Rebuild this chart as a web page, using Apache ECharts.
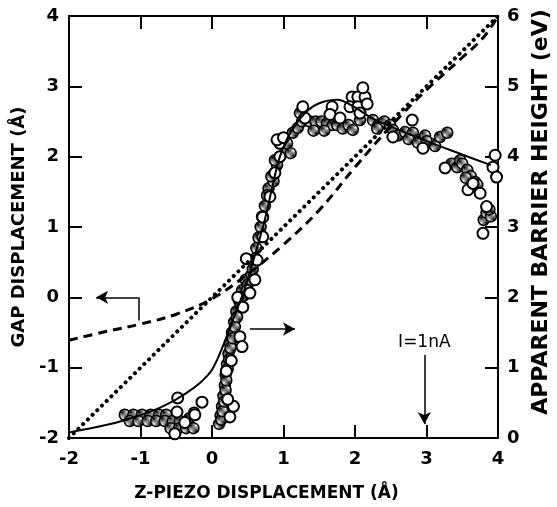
<!DOCTYPE html>
<html>
<head>
<meta charset="utf-8">
<script src="https://cdn.jsdelivr.net/npm/echarts@6/dist/echarts.min.js"></script>
<style>html,body{margin:0;padding:0;background:#fff}#c{width:557px;height:507px}</style>
</head>
<body>
<div id="c"></div>
<script>
// ---- axis ranges ----
const xRange = [-2, 4];
const leftRange = [-2, 4];
const rightRange = [0, 6];

// ---- dashed curve: gap displacement (left axis) ----
const dashedX = [-2, -1.5, -1, -0.5, 0, 0.5, 1, 1.5, 2, 2.5, 3, 3.5, 3.8, 4];
const dashedY = [-0.61, -0.49, -0.38, -0.24, -0.02, 0.33, 0.75, 1.24, 1.85, 2.43, 2.95, 3.41, 3.7, 4.0];

// ---- dotted line: y = x reference (left axis) ----
const dottedX = [-2, 4];
const dottedY = [-2, 4];

// ---- solid fit curve: apparent barrier height (right axis) ----
const fitX = [-2, -1.5, -1.2, -0.8, -0.5, -0.3, -0.15, 0, 0.15, 0.3, 0.45, 0.6, 0.75, 0.85, 0.95, 1.1, 1.3, 1.5, 1.75, 2.0, 2.25, 2.5, 3.0, 3.5, 3.9];
const fitY = [0.08, 0.18, 0.26, 0.4, 0.55, 0.68, 0.8, 0.97, 1.3, 1.7, 2.1, 2.6, 3.15, 3.6, 4.0, 4.35, 4.62, 4.76, 4.81, 4.7, 4.54, 4.43, 4.22, 4.03, 3.88];

// ---- measured points, hatched circles (right axis) ----
const hatchX = [-1.22, -1.1, -0.98, -0.86, -0.74, -0.64, -1.15, -1.03, -0.9, -0.78, -0.66, -0.55, -0.45, -0.58, -0.46, -0.36, -0.26, -0.32, -0.25,
  0.1, 0.12, 0.14, 0.16, 0.18, 0.19, 0.21, 0.23, 0.25, 0.28, 0.31, 0.34, 0.38, 0.42, 0.47,
  0.13, 0.15, 0.17, 0.19, 0.2, 0.22, 0.24, 0.26, 0.29, 0.32, 0.35, 0.4, 0.44, 0.5, 0.55,
  0.57, 0.62, 0.68, 0.74, 0.79, 0.86, 0.91, 0.6, 0.65, 0.7, 0.77, 0.83, 0.88,
  1.03, 1.05, 1.1, 1.13, 1.2, 1.23, 1.26, 1.37, 1.45, 1.53, 1.61, 1.69, 1.42, 1.57, 1.75, 1.83, 1.91, 1.97, 2.07, 2.25, 2.33, 2.41, 2.49, 2.31,
  2.53, 2.6, 2.7, 2.81, 2.91, 2.98, 3.05, 3.12, 3.19, 3.29, 2.75, 2.88, 3.0,
  3.35, 3.43, 3.47, 3.5, 3.57, 3.62, 3.55, 3.68, 3.71, 3.8, 3.84, 3.9, 3.88];
const hatchY = [0.33, 0.33, 0.33, 0.33, 0.33, 0.33, 0.24, 0.24, 0.24, 0.24, 0.24, 0.24, 0.24, 0.14, 0.14, 0.14, 0.14, 0.28, 0.36,
  0.2, 0.32, 0.45, 0.6, 0.75, 0.9, 1.05, 1.2, 1.35, 1.5, 1.65, 1.8, 1.95, 2.1, 2.25,
  0.26, 0.38, 0.52, 0.68, 0.82, 0.98, 1.12, 1.28, 1.42, 1.58, 1.72, 1.88, 2.02, 2.18, 2.32,
  2.4, 2.7, 3.0, 3.3, 3.55, 3.65, 3.88, 2.55, 2.85, 3.15, 3.45, 3.72, 3.95,
  4.1, 4.19, 4.05, 4.34, 4.41, 4.62, 4.5, 4.5, 4.5, 4.5, 4.48, 4.45, 4.37, 4.37, 4.45, 4.4, 4.45, 4.38, 4.52, 4.52, 4.45, 4.5, 4.45, 4.4,
  4.38, 4.3, 4.35, 4.34, 4.24, 4.3, 4.19, 4.15, 4.28, 4.34, 4.25, 4.2, 4.22,
  3.9, 3.85, 3.95, 3.9, 3.81, 3.72, 3.7, 3.64, 3.6, 3.1, 3.2, 3.15, 3.25];

// ---- measured points, open circles (right axis) ----
const openX = [-0.48, -0.49, -0.14, -0.24, -0.52, -0.38,
  0.25, 0.3, 0.22, 0.2, 0.27, 0.39, 0.42, 0.43, 0.36, 0.49, 0.53, 0.48, 0.6,
  0.63, 0.71, 0.71, 0.81, 0.88, 0.95, 0.95, 0.91, 1.0,
  1.27, 1.3, 1.68, 1.65, 1.79, 1.96, 2.04, 2.14, 1.93, 2.04, 2.17, 2.07, 2.11,
  2.53, 2.8, 2.95, 3.26,
  3.58, 3.65, 3.75, 3.96, 3.93, 3.98, 3.84, 3.79];
const openY = [0.57, 0.37, 0.51, 0.33, 0.06, 0.22,
  0.3, 0.45, 0.55, 0.95, 1.1, 1.44, 1.3, 1.86, 2.0, 2.1, 2.06, 2.55, 2.25,
  2.53, 2.86, 3.14, 3.43, 3.77, 4.0, 4.19, 4.24, 4.27,
  4.71, 4.55, 4.71, 4.6, 4.55, 4.85, 4.85, 4.85, 4.71, 4.71, 4.75, 4.62, 4.98,
  4.28, 4.52, 4.12, 3.84,
  3.53, 3.62, 3.48, 4.02, 3.85, 3.71, 3.29, 2.91];

// ---- annotation arrows (left-axis units) ----
const gapArrowStem = [[-1.03, -0.33], [-1.03, 0]];
const gapArrowHead = [[-1.03, 0], [-1.62, 0]];
const barrierArrow = [[0.53, -0.45], [1.16, -0.45]];
const currentArrow = [[2.97, -0.82], [2.97, -1.8]];
const currentLabel = 'I=1nA';

// ---- axis titles ----
const xTitle = 'Z-PIEZO DISPLACEMENT (Å)';
const leftTitle = 'GAP DISPLACEMENT (Å)';
const rightTitle = 'APPARENT BARRIER HEIGHT (eV)';

const zip = (a, b) => a.map((v, i) => [v, b[i]]);

// hatch pattern
const pc = document.createElement('canvas');
pc.width = 4; pc.height = 4;
const pctx = pc.getContext('2d');
pctx.fillStyle = '#fff'; pctx.fillRect(0, 0, 4, 4);
pctx.fillStyle = '#000';
for (let y = 0; y < 4; y++) for (let x = 0; x < 4; x++) if ((x + y) % 2 === 0) pctx.fillRect(x, y, 1, 1);

const FONT = 'DejaVu Sans';
const axisCommon = {
  type: 'value',
  interval: 1,
  axisLine: { show: true, onZero: false, lineStyle: { color: '#000', width: 2 } },
  axisTick: { show: true, inside: true, length: 13, lineStyle: { color: '#000', width: 2 } },
  splitLine: { show: false },
  axisLabel: { color: '#000', fontSize: 18, fontWeight: 'bold', fontFamily: FONT }
};
const nameStyle = { color: '#000', fontSize: 17, fontWeight: 'bold', fontFamily: FONT };

const chart = echarts.init(document.getElementById('c'), null, { renderer: 'canvas' });
chart.setOption({
  animation: false,
  backgroundColor: '#fff',
  grid: { left: 69, right: 59, top: 16, bottom: 69, containLabel: false, outerBoundsMode: 'none' },
  xAxis: [
    Object.assign({}, axisCommon, {
      position: 'bottom', min: xRange[0], max: xRange[1],
      axisLabel: Object.assign({}, axisCommon.axisLabel, { margin: 12 }),
      name: xTitle, nameLocation: 'middle', nameGap: 47,
      nameTextStyle: Object.assign({}, nameStyle, { padding: [0, 34, 0, 0] })
    }),
    Object.assign({}, axisCommon, {
      position: 'top', min: xRange[0], max: xRange[1],
      axisLabel: { show: false }
    })
  ],
  yAxis: [
    Object.assign({}, axisCommon, {
      position: 'left', min: leftRange[0], max: leftRange[1],
      axisLabel: Object.assign({}, axisCommon.axisLabel, { margin: 10 }),
      name: leftTitle, nameLocation: 'middle', nameRotate: 90, nameGap: 38,
      nameTextStyle: Object.assign({}, nameStyle, { fontSize: 18 })
    }),
    Object.assign({}, axisCommon, {
      position: 'right', min: rightRange[0], max: rightRange[1],
      axisLabel: Object.assign({}, axisCommon.axisLabel, { margin: 9 }),
      name: rightTitle, nameLocation: 'middle', nameRotate: 90, nameGap: 32,
      nameTextStyle: Object.assign({}, nameStyle, { fontSize: 22, padding: [0, 0, 0, 30] })
    })
  ],
  series: [
    {
      name: 'hatched', type: 'scatter', xAxisIndex: 0, yAxisIndex: 1, z: 3,
      symbol: 'circle', symbolSize: 11,
      itemStyle: { color: { image: pc, repeat: 'repeat' }, borderColor: '#000', borderWidth: 1.5, opacity: 1 },
      data: zip(hatchX, hatchY)
    },
    {
      name: 'open', type: 'scatter', xAxisIndex: 0, yAxisIndex: 1, z: 4,
      symbol: 'circle', symbolSize: 11,
      itemStyle: { color: '#fff', borderColor: '#000', borderWidth: 2, opacity: 1 },
      data: zip(openX, openY)
    },
    {
      name: 'fit', type: 'line', xAxisIndex: 0, yAxisIndex: 1, z: 5,
      smooth: 0.35, showSymbol: false, symbol: 'none',
      lineStyle: { color: '#000', width: 2 },
      data: zip(fitX, fitY)
    },
    {
      name: 'dotted', type: 'line', xAxisIndex: 0, yAxisIndex: 0, z: 6,
      showSymbol: false, symbol: 'none',
      lineStyle: { color: '#000', width: 4, type: [0.1, 6.5], cap: 'round' },
      data: zip(dottedX, dottedY)
    },
    {
      name: 'dashed', type: 'line', xAxisIndex: 0, yAxisIndex: 0, z: 6,
      smooth: 0.4, showSymbol: false, symbol: 'none',
      lineStyle: { color: '#000', width: 3, type: [9, 6] },
      data: zip(dashedX, dashedY),
      markLine: {
        silent: true, animation: false,
        symbol: ['none', 'arrow'], symbolSize: [10, 12],
        lineStyle: { color: '#000', width: 1.5, type: 'solid' },
        label: { show: false },
        data: [
          [{ coord: gapArrowStem[0] }, { coord: gapArrowStem[1], symbol: 'none' }],
          [{ coord: gapArrowHead[0] }, { coord: gapArrowHead[1] }],
          [{ coord: barrierArrow[0] }, { coord: barrierArrow[1] }],
          [{ coord: currentArrow[0],
             label: { show: true, position: 'start', formatter: currentLabel, color: '#000', fontSize: 17, fontFamily: FONT, distance: 4 } },
           { coord: currentArrow[1] }]
        ]
      }
    }
  ]
});
</script>
</body>
</html>
